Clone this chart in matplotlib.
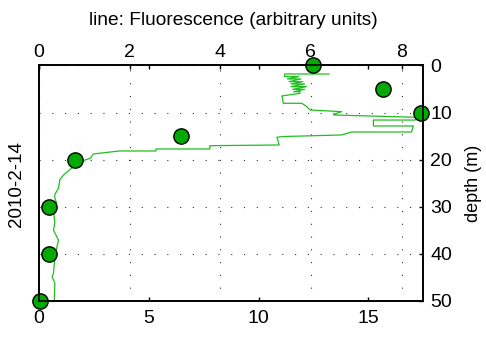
import matplotlib
matplotlib.use("Agg")
import matplotlib.pyplot as plt

plt.rcParams['font.family'] = ['Liberation Sans', 'DejaVu Sans']

# bottle samples (bottom axis) at discrete depths
sample_depth = [0, 5, 10, 15, 20, 30, 40, 50]
sample_value = [12.46, 15.68, 17.38, 6.47, 1.62, 0.47, 0.47, 0.05]

# CTD fluorescence profile (top axis)
fluor_depth = [1.81, 1.81, 2.38, 2.38, 2.87, 2.87, 3.44, 3.44, 3.93, 3.93,
               4.50, 4.50, 5.07, 5.07, 5.57, 5.57, 5.92, 6.48, 7.19, 8.04,
               8.04, 8.75, 9.46, 9.82, 10.17, 10.52, 11.02, 11.60, 11.60,
               12.86, 12.86, 13.57, 14.14, 14.14, 14.77, 15.10, 15.26,
               16.19, 16.90, 17.05, 17.75, 17.75, 18.18, 18.18, 18.81,
               19.73, 20.23, 21.85, 23.28, 24.30, 26.10, 27.40, 28.20,
               29.30, 30.70, 33.50, 35.00, 37.10, 38.90, 41.00, 44.20,
               44.90, 46.30, 49.10, 50.00]
fluor_value = [6.40, 5.42, 5.42, 5.73, 5.48, 5.78, 5.52, 5.82, 5.56, 5.86,
               5.56, 5.90, 5.60, 5.86, 5.62, 5.76, 5.76, 5.36, 5.38, 5.39,
               5.80, 5.91, 5.98, 6.68, 6.57, 6.50, 8.34, 8.30, 7.38,
               7.38, 8.26, 8.24, 8.22, 6.90, 6.68, 5.40, 5.25,
               5.28, 5.30, 3.77, 3.77, 2.58, 2.58, 1.77, 1.20,
               1.13, 0.98, 0.72, 0.54, 0.46, 0.43, 0.35, 0.35,
               0.39, 0.32, 0.35, 0.32, 0.43, 0.39, 0.35, 0.32,
               0.29, 0.35, 0.34, 0.34]

fluor_ticks = [0, 2, 4, 6, 8]
sample_ticks = [0, 5, 10, 15]
depth_ticks = [0, 10, 20, 30, 40, 50]

fig = plt.figure(figsize=(4.86, 3.38), dpi=100)
ax = fig.add_axes([0.0802, 0.1104, 0.7907, 0.6959])
axp = ax.twiny()

# fluorescence line on the top axis
ax.plot(fluor_value, fluor_depth, color='#1fbf1f', lw=0.9, zorder=2)
ax.set_xlim(0, 8.48)
ax.set_ylim(50, 0)
ax.set_xticks(fluor_ticks)
ax.set_yticks(depth_ticks)
ax.xaxis.tick_top()
ax.xaxis.set_label_position('top')
ax.yaxis.tick_right()
ax.yaxis.set_label_position('right')
ax.tick_params(axis='x', direction='in', length=3, width=1, labelsize=14,
               pad=3, top=True, bottom=False, labeltop=True,
               labelbottom=False)
ax.tick_params(axis='y', direction='in', length=3, width=1, labelsize=14,
               pad=5, right=True, left=False)
ax.grid(True, color='0.2', lw=0.8, linestyle=(0, (1, 10.5)))
ax.set_ylabel('depth (m)', fontsize=13, labelpad=9)
for sp in ax.spines.values():
    sp.set_linewidth(1.2)

# bottle samples on the bottom axis, drawn above the line
axp.set_zorder(ax.get_zorder() + 1)
axp.patch.set_visible(False)
axp.plot(sample_value, sample_depth, 'o', ms=11, mfc='#00aa00',
         mec='k', mew=1.0, clip_on=False)
axp.set_xlim(0, 17.5)
axp.set_ylim(50, 0)
axp.set_xticks(sample_ticks)
axp.xaxis.tick_bottom()
axp.tick_params(axis='x', direction='in', length=3, width=1, labelsize=14,
                pad=7, top=True, bottom=True, labeltop=False,
                labelbottom=True)
for sp in axp.spines.values():
    sp.set_linewidth(1.2)

fig.text(0.481, 1 - 25 / 338, 'line: Fluorescence (arbitrary units)',
         ha='center', va='baseline', fontsize=13.8)
fig.text(16.5 / 486, 1 - 184 / 338, '2010-2-14', rotation=90,
         ha='center', va='center', fontsize=13.5)

fig.savefig('out.png', dpi=100)
